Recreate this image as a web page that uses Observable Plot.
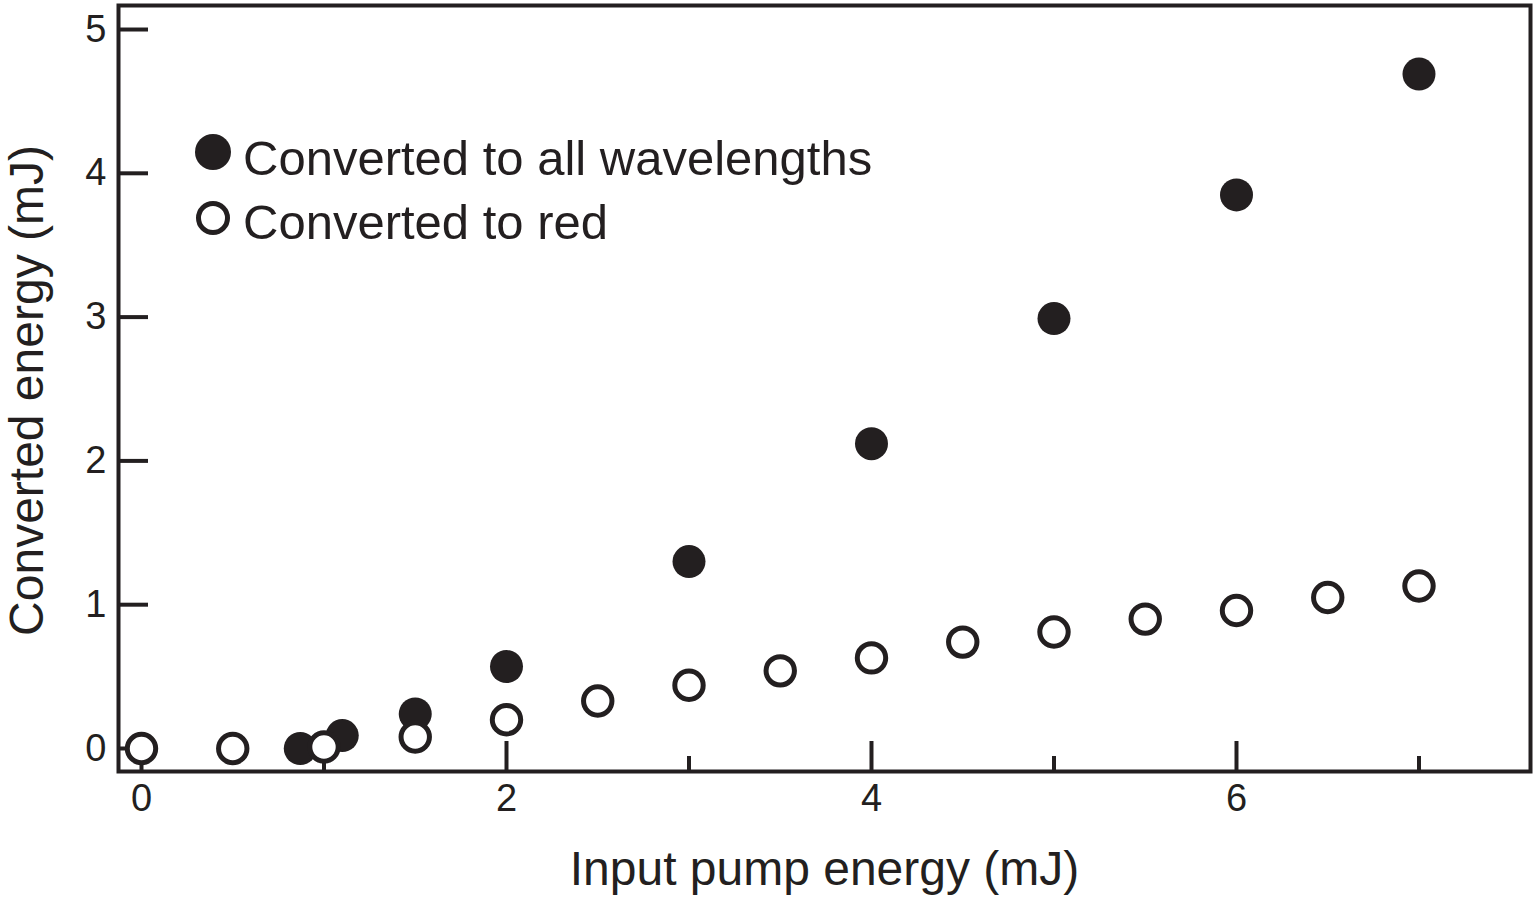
<!DOCTYPE html>
<html>
<head>
<meta charset="utf-8">
<script src="https://cdn.jsdelivr.net/npm/d3@7"></script>
<script src="https://cdn.jsdelivr.net/npm/@observablehq/plot@0.6"></script>
<style>
  html, body { margin: 0; padding: 0; background: #fff; }
  #wrap { position: relative; width: 1536px; height: 910px; font-family: "Liberation Sans", Arial, sans-serif; color: #231f20; }
  #legend { position: absolute; left: 180px; top: 110px; }
</style>
</head>
<body>
<div id="wrap">
  <div id="chart"></div>
  <svg id="legend" width="760" height="150"></svg>
</div>
<script>
// Input pump energy (mJ)
const allX = [0.87, 1.1, 1.5, 2, 3, 4, 5, 6, 7];
// Converted to all wavelengths (mJ)
const allY = [0.0, 0.09, 0.24, 0.57, 1.30, 2.12, 2.99, 3.85, 4.69];
const redX = [0, 0.5, 1, 1.5, 2, 2.5, 3, 3.5, 4, 4.5, 5, 5.5, 6, 6.5, 7];
// Converted to red (mJ)
const redY = [0, 0, 0.01, 0.08, 0.20, 0.33, 0.44, 0.54, 0.63, 0.74, 0.81, 0.90, 0.96, 1.05, 1.13];

const xMajor = [0, 2, 4, 6];
const xMinor = [1, 3, 5, 7];
const yTicks = [0, 1, 2, 3, 4, 5];
const seriesNames = ["Converted to all wavelengths", "Converted to red"];
const xTitle = "Input pump energy (mJ)";
const yTitle = "Converted energy (mJ)";

const ink = "#231f20";
const font = "'Liberation Sans', Arial, sans-serif";
const allData = allX.map((x, i) => ({x, y: allY[i]}));
const redData = redX.map((x, i) => ({x, y: redY[i]}));

const chart = Plot.plot({
  width: 1536,
  height: 910,
  marginLeft: 118,
  marginRight: 6,
  marginTop: 5,
  marginBottom: 139,
  style: {fontFamily: font, color: ink, background: "#fff"},
  x: {domain: [-0.126, 7.611]},
  y: {domain: [-0.16, 5.167]},
  marks: [
    Plot.axisX({ticks: xMajor, tickSize: -30, fill: "none", label: null, strokeWidth: 4, stroke: ink}),
    Plot.axisX({ticks: xMinor, tickSize: -15, fill: "none", label: null, strokeWidth: 4, stroke: ink}),
    Plot.axisX({ticks: xMajor, tickSize: 0, tickPadding: 13, tickFormat: "d", fontSize: 38, label: null, fill: ink}),
    Plot.axisY({ticks: yTicks, tickSize: -30, fill: "none", label: null, strokeWidth: 4, stroke: ink}),
    Plot.axisY({ticks: yTicks, tickSize: 0, tickPadding: 12, tickFormat: "d", fontSize: 38, label: null, fill: ink}),
    Plot.frame({stroke: ink, strokeWidth: 4}),
    Plot.text([xTitle], {frameAnchor: "bottom", dy: 113, fontSize: 48, fill: ink, text: d => d}),
    Plot.text([yTitle], {frameAnchor: "left", textAnchor: "middle", dx: -91, dy: 2, rotate: -90, fontSize: 48, fill: ink, text: d => d}),
    Plot.dot(allData, {x: "x", y: "y", r: 16.5, fill: ink, stroke: "none"}),
    Plot.dot(redData, {x: "x", y: "y", r: 14.2, fill: "#fff", stroke: ink, strokeWidth: 5})
  ]
});
document.getElementById("chart").appendChild(chart);

// Legend (inside the plot area, top-left)
const legend = d3.select("#legend");
seriesNames.forEach((name, i) => {
  const c = legend.append("circle").attr("cx", 33).attr("cy", 42 + 66 * i);
  if (i === 0) c.attr("r", 18).attr("fill", ink);
  else c.attr("r", 14.5).attr("fill", "#fff").attr("stroke", ink).attr("stroke-width", 5);
  legend.append("text")
    .attr("x", 63).attr("y", 65 + 64 * i)
    .attr("font-family", font).attr("font-size", 49).attr("fill", ink)
    .text(name);
});
</script>
</body>
</html>
